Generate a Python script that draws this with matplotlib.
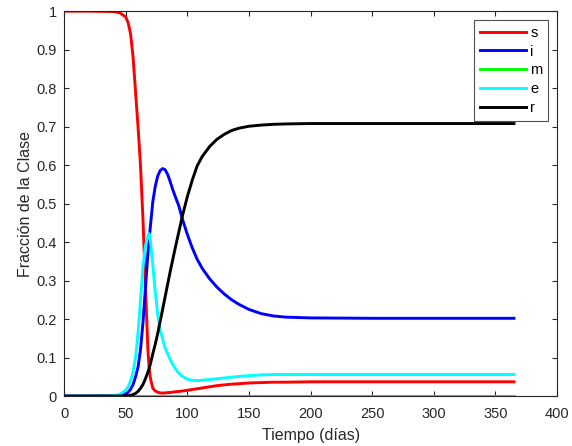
import matplotlib
matplotlib.use("Agg")
import matplotlib.pyplot as plt

# tiempo (días) y fracciones
t = [0, 20, 40, 45, 50, 52, 54, 56, 58, 60, 62, 64, 66, 68, 69, 70, 72, 74, 76, 78,
     80, 82, 84, 86, 88, 90, 93, 96, 100, 104, 108, 112, 118, 124, 130, 136, 142,
     150, 160, 170, 180, 200, 250, 300, 365]

s = [1.0, 1.0, 0.999, 0.996, 0.985, 0.97, 0.94, 0.88, 0.79, 0.70, 0.60, 0.46, 0.29,
     0.12, 0.075, 0.047, 0.02, 0.013, 0.01, 0.008, 0.008, 0.008, 0.009, 0.009, 0.010,
     0.011, 0.012, 0.013, 0.015, 0.017, 0.019, 0.021, 0.024, 0.027, 0.029, 0.031,
     0.032, 0.034, 0.035, 0.036, 0.036, 0.037, 0.037, 0.037, 0.037]

i = [0.0, 0.0, 0.0005, 0.002, 0.006, 0.01, 0.018, 0.03, 0.05, 0.075, 0.12, 0.19, 0.28,
     0.37, 0.405, 0.44, 0.505, 0.545, 0.572, 0.586, 0.591, 0.588, 0.576, 0.558, 0.538,
     0.52, 0.495, 0.46, 0.42, 0.385, 0.355, 0.332, 0.305, 0.283, 0.265, 0.25, 0.238,
     0.225, 0.214, 0.208, 0.205, 0.203, 0.202, 0.202, 0.202]

m = [0.0] * len(t)

e = [0.0, 0.0, 0.001, 0.004, 0.015, 0.024, 0.04, 0.062, 0.1, 0.163, 0.25, 0.336, 0.39,
     0.415, 0.422, 0.405, 0.34, 0.27, 0.21, 0.172, 0.148, 0.125, 0.11, 0.096, 0.083,
     0.072, 0.06, 0.051, 0.044, 0.041, 0.04, 0.041, 0.043, 0.045, 0.047, 0.049, 0.051,
     0.053, 0.055, 0.056, 0.056, 0.056, 0.056, 0.056, 0.056]

r = [0.0, 0.0, 0.0, 0.0, 0.0005, 0.001, 0.002, 0.004, 0.007, 0.012, 0.02, 0.03, 0.045,
     0.062, 0.072, 0.083, 0.11, 0.135, 0.163, 0.195, 0.226, 0.258, 0.29, 0.322, 0.352,
     0.382, 0.425, 0.468, 0.518, 0.561, 0.598, 0.622, 0.648, 0.667, 0.68, 0.69, 0.696,
     0.701, 0.704, 0.706, 0.707, 0.708, 0.708, 0.708, 0.708]

xticks = [0, 50, 100, 150, 200, 250, 300, 350, 400]
xlabels = ["0", "50", "100", "150", "200", "250", "300", "350", "400"]
yticks = [0, 0.1, 0.2, 0.3, 0.4, 0.5, 0.6, 0.7, 0.8, 0.9, 1]
ylabels = ["0", "0.1", "0.2", "0.3", "0.4", "0.5", "0.6", "0.7", "0.8", "0.9", "1"]

plt.rcParams['font.family'] = ['Liberation Sans', 'DejaVu Sans']
grey = '#262626'

fig = plt.figure(figsize=(5.72, 4.46), dpi=100)
ax = fig.add_axes([0.112, 0.112, 0.862, 0.863])

ax.plot(t, s, color='#ff0000', lw=2.1, label='s')
ax.plot(t, i, color='#0000ff', lw=2.1, label='i')
ax.plot(t, m, color='#00ff00', lw=2.1, label='m')
ax.plot(t, e, color='#00ffff', lw=2.1, label='e')
ax.plot(t, r, color='#000000', lw=2.1, label='r')

ax.set_xlim(0, 400)
ax.set_ylim(0, 1)
ax.set_xticks(xticks)
ax.set_xticklabels(xlabels)
ax.set_yticks(yticks)
ax.set_yticklabels(ylabels)
ax.tick_params(direction='in', top=True, right=True, length=3.5, width=0.8,
               colors=grey, labelsize=10.5, labelcolor=grey)
ax.tick_params(axis='x', pad=8)
ax.tick_params(axis='y', pad=5)
for sp in ax.spines.values():
    sp.set_color(grey)
    sp.set_linewidth(0.8)

ax.set_xlabel('Tiempo (días)', fontsize=11.5, color=grey, labelpad=5)
ax.set_ylabel('Fracción de la Clase', fontsize=11.5, color=grey, labelpad=3)

leg = ax.legend(loc='upper right', fontsize=10.5, fancybox=False, handlelength=3.15,
                borderaxespad=0.6, labelspacing=0.33, handletextpad=0.3,
                borderpad=0.4)
leg.get_frame().set_edgecolor(grey)
leg.get_frame().set_linewidth(0.8)

fig.savefig('out.png', dpi=100)
